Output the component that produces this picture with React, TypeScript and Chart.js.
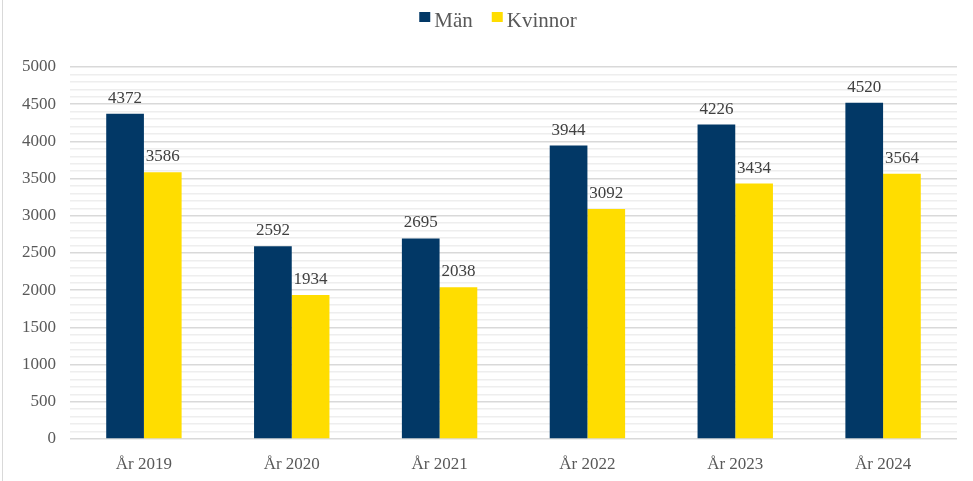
import React, { useEffect, useRef } from "react";
import { Chart, registerables } from "chart.js";

Chart.register(...registerables);

const categories = ["År 2019", "År 2020", "År 2021", "År 2022", "År 2023", "År 2024"];
const manValues = [4372, 2592, 2695, 3944, 4226, 4520];
const kvinnorValues = [3586, 1934, 2038, 3092, 3434, 3564];
const seriesNames = ["Män", "Kvinnor"];
const seriesColors = ["#023866", "#FFDD00"];

const FONT = "'Liberation Serif', 'Times New Roman', serif";

const labelPlugin = {
  id: "barLabels",
  afterDatasetsDraw(chart: any) {
    const ctx = chart.ctx;
    ctx.save();
    ctx.font = `17px ${FONT}`;
    ctx.fillStyle = "#404040";
    ctx.textAlign = "center";
    ctx.textBaseline = "alphabetic";
    chart.data.datasets.forEach((ds: any, di: number) => {
      const meta = chart.getDatasetMeta(di);
      meta.data.forEach((el: any, i: number) => {
        ctx.fillText(String(ds.data[i]), el.x, el.y - 11);
      });
    });
    ctx.restore();
  },
};

const legendPlugin = {
  id: "customLegend",
  afterDraw(chart: any) {
    const ctx = chart.ctx;
    ctx.save();
    ctx.font = `21px ${FONT}`;
    const box = 11;
    const gap = 4;
    const spacing = 19;
    const items = chart.data.datasets.map((d: any) => ({
      text: d.label,
      color: d.backgroundColor,
      w: ctx.measureText(d.label).width,
    }));
    let total = 0;
    items.forEach((it: any, i: number) => {
      total += box + gap + it.w + (i < items.length - 1 ? spacing : 0);
    });
    let x = 498 - total / 2;
    ctx.textBaseline = "alphabetic";
    ctx.textAlign = "left";
    items.forEach((it: any) => {
      ctx.fillStyle = it.color;
      ctx.fillRect(x, 12, box, 10);
      ctx.fillStyle = "#595959";
      ctx.fillText(it.text, x + box + gap, 27);
      x += box + gap + it.w + spacing;
    });
    ctx.restore();
  },
};

const framePlugin = {
  id: "frame",
  beforeDraw(chart: any) {
    const ctx = chart.ctx;
    ctx.save();
    ctx.fillStyle = "#ffffff";
    ctx.fillRect(0, 0, chart.width, chart.height);
    ctx.strokeStyle = "#d9d9d9";
    ctx.lineWidth = 1;
    ctx.beginPath();
    ctx.moveTo(2.5, 0);
    ctx.lineTo(2.5, chart.height);
    ctx.stroke();
    ctx.restore();
  },
};

export default function App() {
  const ref = useRef<HTMLCanvasElement | null>(null);
  useEffect(() => {
    document.body.style.margin = "0";
    const chart = new Chart(ref.current as HTMLCanvasElement, {
      type: "bar",
      data: {
        labels: categories,
        datasets: [
          { label: seriesNames[0], data: manValues, backgroundColor: seriesColors[0] },
          { label: seriesNames[1], data: kvinnorValues, backgroundColor: seriesColors[1] },
        ],
      },
      options: {
        responsive: false,
        animation: false,
        layout: { padding: { left: 8, right: 16, top: 67, bottom: 0 } },
        datasets: {
          bar: { categoryPercentage: 0.51, barPercentage: 1.0 },
        },
        plugins: {
          legend: { display: false },
          tooltip: { enabled: false },
        },
        scales: {
          x: {
            grid: { display: false },
            border: { display: false },
            ticks: { font: { family: FONT, size: 17 }, color: "#595959", padding: 7, maxRotation: 0 },
            afterFit: (s: any) => {
              s.height = 42;
            },
          },
          y: {
            min: 0,
            max: 5000,
            border: { display: false },
            ticks: {
              stepSize: 100,
              autoSkip: false,
              font: { family: FONT, size: 17 },
              color: "#595959",
              padding: 14,
              callback: (v: any) => (Number(v) % 500 === 0 ? String(v) : ""),
            },
            grid: {
              color: (c: any) => (c.tick && c.tick.value % 500 === 0 ? "#d9d9d9" : "#eeeeee"),
              lineWidth: 1.5,
              drawTicks: false,
            },
          },
        },
      },
      plugins: [labelPlugin, legendPlugin, framePlugin],
    });
    return () => chart.destroy();
  }, []);
  return <canvas ref={ref} width={973} height={481} style={{ display: "block" }} />;
}
